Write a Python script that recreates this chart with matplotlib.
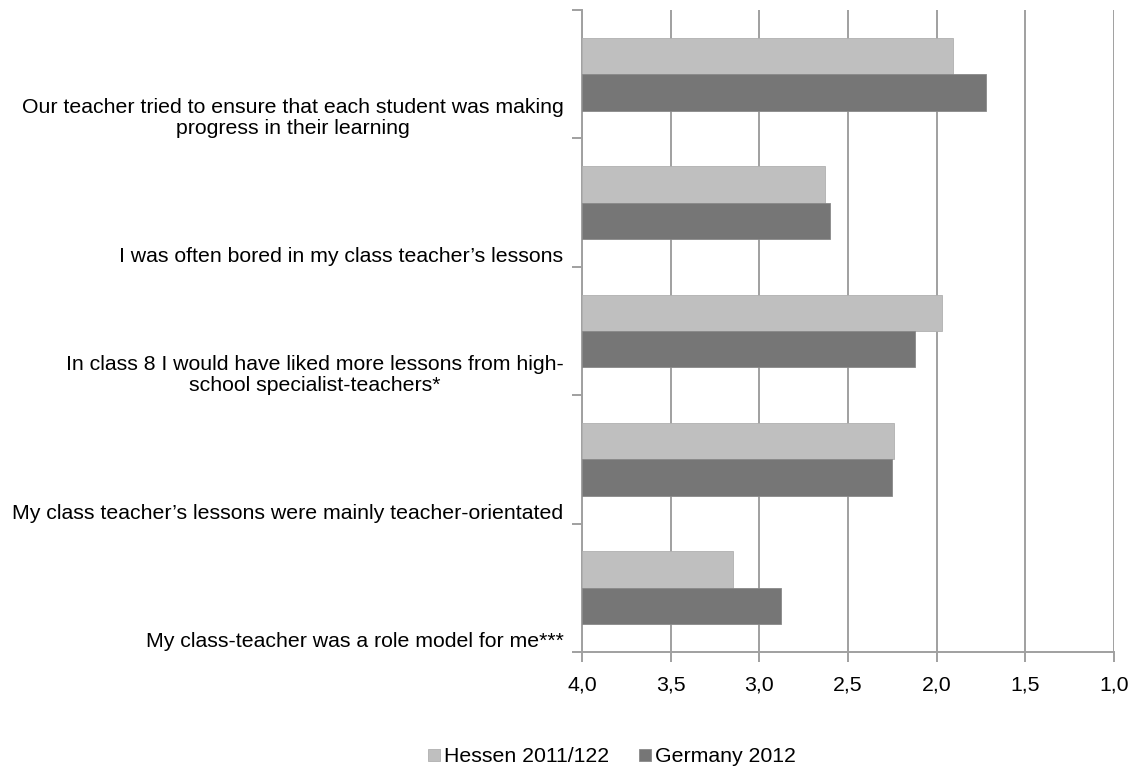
import matplotlib.pyplot as plt
import numpy as np

plt.rcParams['font.family'] = ['Liberation Sans', 'DejaVu Sans']

# data (mean ratings, 1 = agree ... 4 = disagree)
labels = [
    "Our teacher tried to ensure that each student was making\nprogress in their learning",
    "I was often bored in my class teacher\u2019s lessons",
    "In class 8 I would have liked more lessons from high-\nschool specialist-teachers*",
    "My class teacher\u2019s lessons were mainly teacher-orientated",
    "My class-teacher was a role model for me***",
]
hessen = [1.91, 2.63, 1.97, 2.24, 3.15]
germany = [1.72, 2.60, 2.12, 2.25, 2.88]
series_names = ["Hessen 2011/122", "Germany 2012"]
xticks = [4.0, 3.5, 3.0, 2.5, 2.0, 1.5, 1.0]

light = '#BFBFBF'
dark = '#767676'
grid = '#A0A0A0'
fs = 15.3

fig = plt.figure(figsize=(11.34, 7.69), dpi=100)
ax = fig.add_axes([582 / 1134, 1 - 652 / 769, 532 / 1134, 642 / 769])

y = np.arange(len(labels))
h = 0.283
off = 0.1415
# bars grow from 4,0 towards the right (axis is reversed)
ax.barh(y - off, [4 - v for v in hessen], left=hessen, height=h,
        color=light, edgecolor='#B0B0B0', linewidth=0.6, label=series_names[0], zorder=3)
ax.barh(y + off, [4 - v for v in germany], left=germany, height=h,
        color=dark, edgecolor='#8A8A8A', linewidth=0.6, label=series_names[1], zorder=3)

ax.set_xlim(4.0, 1.0)
ax.set_ylim(len(labels) - 0.5, -0.5)

ax.set_xticks(xticks)
ax.set_xticklabels([f"{t:.1f}".replace('.', ',') for t in xticks], fontsize=fs)
ax.set_yticks(np.arange(len(labels) + 1) - 0.5)
ax.set_yticklabels([])
ax.xaxis.grid(True, color=grid, linewidth=1.4, zorder=0)

for s in ['top', 'right']:
    ax.spines[s].set_visible(False)
for s in ['left', 'bottom']:
    ax.spines[s].set_color(grid)
    ax.spines[s].set_linewidth(1.4)
ax.tick_params(axis='both', color=grid, width=1.4, length=7)
ax.tick_params(axis='x', pad=10)

# category labels sit near the bottom of their band
for i, lab in enumerate(labels):
    ax.text(-0.035, i + 0.5 - 0.005, lab, transform=ax.get_yaxis_transform(),
            ha='right', va='bottom', multialignment='center', fontsize=fs,
            linespacing=1.1)

fig.legend(loc='center', bbox_to_anchor=(612 / 1134, 1 - 757 / 769), ncol=2,
           frameon=False, fontsize=fs, handlelength=0.55, handleheight=0.55,
           handletextpad=0.2, columnspacing=1.4)

plt.savefig('out.png', dpi=100)
